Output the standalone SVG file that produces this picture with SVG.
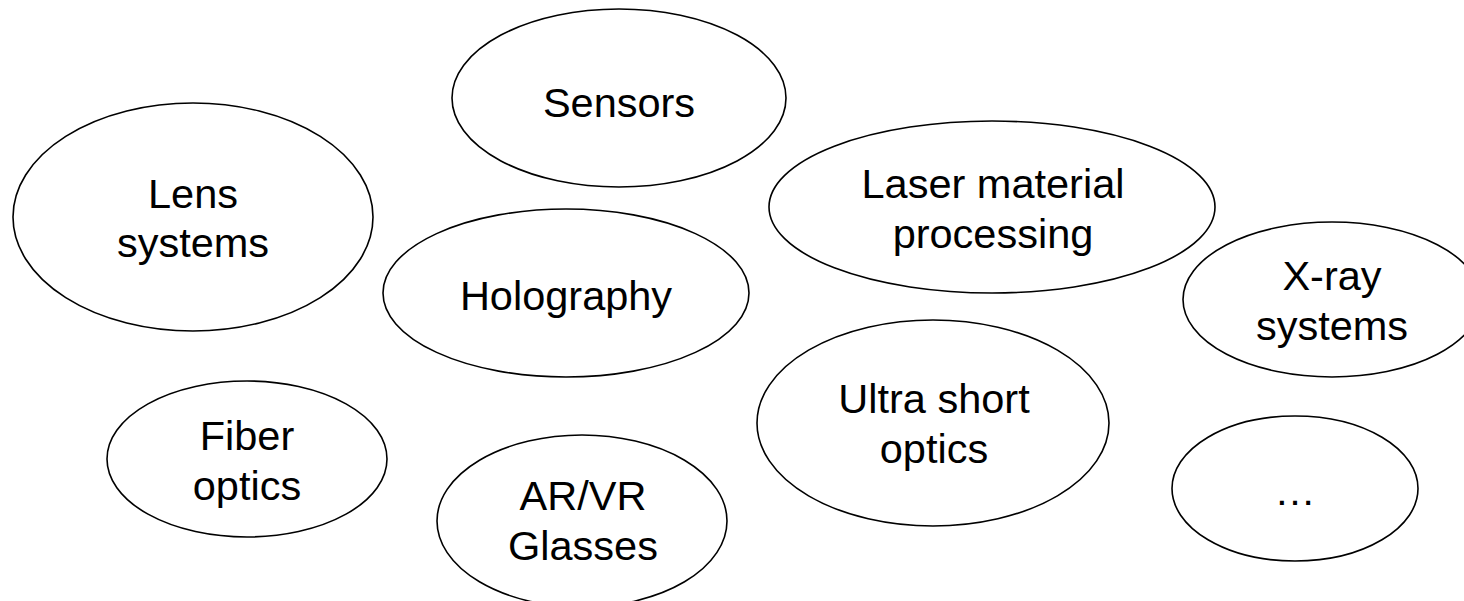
<svg xmlns="http://www.w3.org/2000/svg" width="1464" height="601" viewBox="0 0 1464 601">
  <style>
    .bubble { fill: #ffffff; stroke: #000000; stroke-width: 1.6; }
    .label { font-family: "Liberation Sans", Arial, sans-serif; font-size: 41.5px; fill: #000000; text-anchor: middle; }
  </style>
  <rect x="0" y="0" width="1464" height="601" fill="#ffffff"/>

  <!-- application areas, one ellipse per topic -->
  <g id="node-sensors">
    <ellipse class="bubble" cx="619" cy="98" rx="167" ry="89"/>
    <text class="label" x="619" y="117">Sensors</text>
  </g>

  <g id="node-lens-systems">
    <ellipse class="bubble" cx="193" cy="217" rx="180" ry="114"/>
    <text class="label" x="193" y="208">Lens</text>
    <text class="label" x="193" y="257">systems</text>
  </g>

  <g id="node-laser-material-processing">
    <ellipse class="bubble" cx="992" cy="207" rx="223" ry="86"/>
    <text class="label" x="993" y="198">Laser material</text>
    <text class="label" x="993" y="248">processing</text>
  </g>

  <g id="node-holography">
    <ellipse class="bubble" cx="566" cy="293" rx="183" ry="84"/>
    <text class="label" x="566" y="310">Holography</text>
  </g>

  <g id="node-x-ray-systems">
    <ellipse class="bubble" cx="1332" cy="299.5" rx="149" ry="77.5"/>
    <text class="label" x="1332" y="290">X-ray</text>
    <text class="label" x="1332" y="340">systems</text>
  </g>

  <g id="node-ultra-short-optics">
    <ellipse class="bubble" cx="933" cy="423" rx="176" ry="103"/>
    <text class="label" x="934" y="413">Ultra short</text>
    <text class="label" x="934" y="463">optics</text>
  </g>

  <g id="node-fiber-optics">
    <ellipse class="bubble" cx="247" cy="459" rx="140" ry="78"/>
    <text class="label" x="247" y="450">Fiber</text>
    <text class="label" x="247" y="500">optics</text>
  </g>

  <g id="node-ar-vr-glasses">
    <ellipse class="bubble" cx="582" cy="521" rx="145" ry="86"/>
    <text class="label" x="583" y="510">AR/VR</text>
    <text class="label" x="583" y="560">Glasses</text>
  </g>

  <g id="node-more">
    <ellipse class="bubble" cx="1295" cy="488.5" rx="123" ry="72.5"/>
    <text class="label" x="1295" y="505">…</text>
  </g>

  <!-- no connectors between the topics -->
  <g id="connectors"/>
</svg>
